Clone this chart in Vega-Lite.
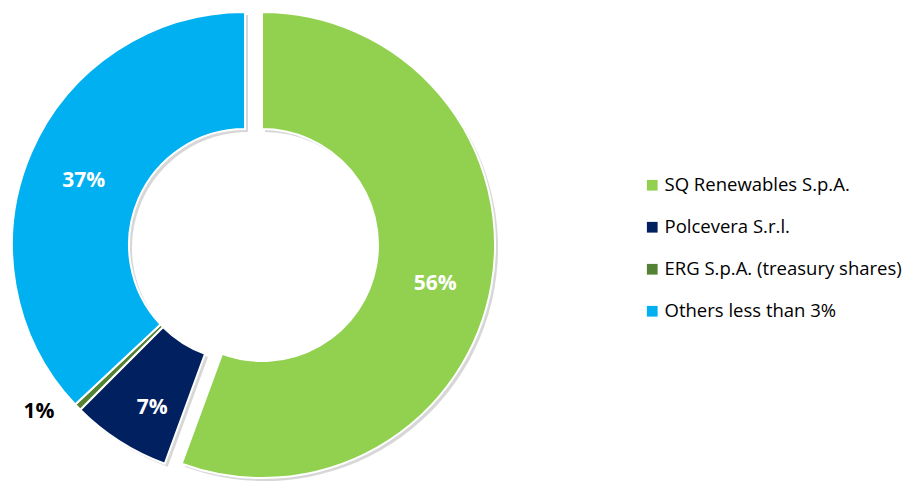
{
  "$schema": "https://vega.github.io/schema/vega-lite/v6.json",
  "width": 490,
  "height": 474,
  "autosize": {"type": "none"},
  "padding": {"left": 0, "top": 8, "right": 414, "bottom": 0},
  "background": "white",
  "config": {"view": {"stroke": null}, "font": "Open Sans"},
  "data": {
    "values": [
      {"name": "SQ Renewables S.p.A.", "share": 55.6, "label": "56%", "rank": 1},
      {"name": "Polcevera S.r.l.", "share": 6.9, "label": "7%", "rank": 2},
      {"name": "ERG S.p.A. (treasury shares)", "share": 0.5, "label": "1%", "rank": 3},
      {"name": "Others less than 3%", "share": 37.0, "label": "37%", "rank": 4}
    ]
  },
  "encoding": {
    "theta": {"field": "share", "type": "quantitative", "stack": true},
    "order": {"field": "rank", "type": "quantitative"}
  },
  "layer": [
    {
      "mark": {"type": "arc", "innerRadius": 116, "radius": 233, "color": "#7a7a7a", "xOffset": 3, "yOffset": 3},
      "encoding": {
        "opacity": {"condition": {"test": "datum.name === 'SQ Renewables S.p.A.'", "value": 0}, "value": 0.3}
      }
    },
    {
      "mark": {"type": "arc", "innerRadius": 116, "radius": 233, "color": "#7a7a7a", "xOffset": 20, "yOffset": 3},
      "encoding": {
        "opacity": {"condition": {"test": "datum.name === 'SQ Renewables S.p.A.'", "value": 0.3}, "value": 0}
      }
    },
    {
      "mark": {"type": "arc", "innerRadius": 116, "radius": 233, "stroke": "white", "strokeWidth": 2},
      "encoding": {
        "color": {
          "field": "name", "type": "nominal",
          "scale": {
            "domain": ["SQ Renewables S.p.A.", "Polcevera S.r.l.", "ERG S.p.A. (treasury shares)", "Others less than 3%"],
            "range": ["#92D050", "#002060", "#548235", "#00B0F0"]
          },
          "legend": {
            "title": null,
            "orient": "none",
            "legendX": 643,
            "legendY": 168,
            "symbolType": "square",
            "symbolSize": 115,
            "symbolStrokeWidth": 0,
            "labelFontSize": 18.5,
            "labelFont": "Open Sans",
            "labelColor": "#000000",
            "labelOffset": 3,
            "labelLimit": 400,
            "rowPadding": 23,
            "padding": 0
          }
        },
        "opacity": {"condition": {"test": "datum.name === 'SQ Renewables S.p.A.'", "value": 0}, "value": 1}
      }
    },
    {
      "mark": {"type": "arc", "innerRadius": 116, "radius": 233, "stroke": "white", "strokeWidth": 2, "xOffset": 17},
      "encoding": {
        "color": {"field": "name", "type": "nominal"},
        "opacity": {"condition": {"test": "datum.name === 'SQ Renewables S.p.A.'", "value": 1}, "value": 0}
      }
    },
    {
      "mark": {"type": "text", "radius": 178, "fontSize": 21, "fontWeight": "bold", "color": "white", "dx": 2, "dy": 7},
      "encoding": {
        "text": {"field": "label"},
        "opacity": {"condition": {"test": "datum.name === 'Others less than 3%'", "value": 1}, "value": 0}
      }
    },
    {
      "mark": {"type": "text", "radius": 178, "fontSize": 21, "fontWeight": "bold", "color": "white", "dx": 3, "dy": 13},
      "encoding": {
        "text": {"field": "label"},
        "opacity": {"condition": {"test": "datum.name === 'Polcevera S.r.l.'", "value": 1}, "value": 0}
      }
    },
    {
      "mark": {"type": "text", "radius": 177, "fontSize": 21, "fontWeight": "bold", "color": "white", "xOffset": 17, "dx": -1, "dy": 8},
      "encoding": {
        "text": {"field": "label"},
        "opacity": {"condition": {"test": "datum.name === 'SQ Renewables S.p.A.'", "value": 1}, "value": 0}
      }
    },
    {
      "mark": {"type": "text", "radius": 266, "fontSize": 21, "fontWeight": "bold", "color": "black", "dx": -15, "dy": -18},
      "encoding": {
        "text": {"field": "label"},
        "opacity": {"condition": {"test": "datum.name === 'ERG S.p.A. (treasury shares)'", "value": 1}, "value": 0}
      }
    }
  ]
}
